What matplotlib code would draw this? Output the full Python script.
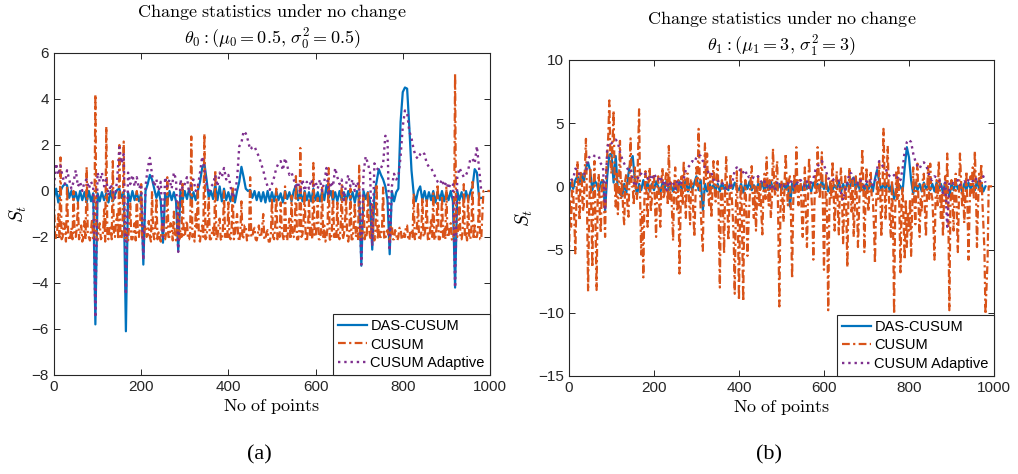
import matplotlib
matplotlib.use('Agg')
import matplotlib.pyplot as plt
import numpy as np

# sample steps along "No of points" for DAS-CUSUM, CUSUM, CUSUM Adaptive
steps = [5, 2.5, 5]

# (a) theta_0 panel
left_das = [
    -0.3, 0.1, -0.5, 0.0, 0.2, 0.3, 0.25, -0.3, 0.0, -0.4,
    -0.05, -0.45, 0.0, -0.4, -0.05, -0.5, 0.0, -0.45, -0.1, -5.8,
    -0.1, -0.45, -0.05, -0.4, -0.1, -0.5, 0.0, -0.45, -0.15, 0.05,
    0.1, -0.3, -0.05, -6.1, -0.05, -0.45, 0.0, -0.4, -0.05, -0.45,
    -0.1, -3.2, 0.0, 0.3, 0.7, 0.5, 0.1, -0.3, 0.0, -0.45,
    -2.25, -0.1, -0.45, 0.0, -0.4, -0.05, -0.45, -2.6, 0.0, -0.4,
    0.0, -0.35, 0.1, -0.45, -0.05, -0.4, 0.0, 0.4, 1.0, 1.2,
    0.5, -0.3, 0.0, -0.35, 0.3, -0.4, 0.2, -0.45, 0.1, -0.4,
    -0.05, -0.45, 0.0, -0.5, 0.0, 0.4, 1.05, 0.6, 0.1, 0.0,
    0.05, -0.3, 0.0, -0.4, -0.05, -0.45, -0.05, -0.5, 0.0, -0.45,
    -0.05, -0.45, 0.0, -0.4, -0.1, -0.5, 0.0, -0.35, -0.05, -0.45,
    0.0, 0.25, -0.4, -0.05, -0.45, 0.0, -0.4, -0.05, -0.45, 0.1,
    -0.4, -0.05, -0.45, 0.0, -0.4, 0.25, -0.3, 0.0, -0.45, -0.05,
    -0.45, 0.0, -0.4, -0.05, -0.45, 0.0, -0.4, -0.05, -0.5, 0.0,
    -0.4, -3.25, 0.0, -0.35, -0.05, -0.45, -2.55, -0.1, 0.4, 0.95,
    0.7, 0.5, 0.2, -0.4, -2.75, 0.0, -0.45, -0.05, 0.1, 3.0,
    4.3, 4.5, 4.45, 2.8, 0.9, -0.1, -0.45, 0.0, 0.2, -0.4,
    0.0, -0.45, -0.05, -0.4, 0.0, -0.5, -0.05, -0.4, 0.0, -0.45,
    -0.05, -0.4, 0.0, -0.45, -4.2, 0.0, -0.4, -0.05, -0.45, 0.0,
    -0.4, -0.05, 0.2, 0.95, 0.8, -0.3, -0.3,
]
left_cusum = [
    -0.3, -1.9, -2.1, -1.7, -1.0, -2.0, 1.46, -2.1, -2.0, -1.4, -1.5, -2.2, 0.25, -1.8, -2.15, -2.0, -1.6, -2.1, 0.0, -1.9,
    -2.0, -1.6, -0.5, -2.1, -1.9, -1.5, -2.2, -2.0, -1.3, -2.1, 1.05, -1.8, -2.0, -2.15, -1.7, -1.2, -2.1, -1.9, 4.2, -2.1,
    -2.15, -1.7, -1.4, -2.1, -2.0, -1.8, -0.8, -2.2, 2.8, -2.0, -2.1, -1.5, -1.6, -2.1, 1.3, -1.9, -2.0, -1.3, -1.0, -2.1,
    2.0, -2.0, -2.1, -1.6, 2.15, -2.1, -1.8, -2.0, -2.2, -1.4, -0.5, -2.1, -2.1, -1.8, -1.4, -2.15, 0.0, -1.9, -2.0, -1.5,
    0.3, -2.1, -2.15, -1.7, -1.5, -2.0, -1.9, -1.3, -2.0, -2.2, 0.0, -1.8, -2.1, -1.6, -0.3, -2.1, -1.8, -2.0, -2.2, -1.5,
    -1.2, -2.1, -2.1, -1.8, 0.6, -2.0, -2.0, -1.4, -1.6, -2.15, -0.9, -2.0, -2.15, -1.7, -0.5, -2.1, -1.7, -2.0, 0.4, -1.9,
    -2.0, -1.5, -1.3, -2.1, -2.1, -1.8, 2.37, -2.0, -1.9, -2.2, -1.0, -1.6, 0.2, -2.1, -2.2, -1.7, -1.5, -2.0, 2.49, -2.1,
    -2.0, -1.4, -0.3, -2.1, -2.1, -1.8, -1.6, -2.0, 0.9, -2.15, -2.0, -1.5, -1.2, -2.1, -2.15, -1.7, 0.0, -2.0, -1.8, -2.1,
    -0.5, -2.0, -2.1, -1.6, 0.2, -2.1, -1.9, -1.4, -1.0, -2.0, -2.2, -1.8, -0.45, -2.1, -2.0, -1.5, -1.5, -2.15, -2.1, -1.8,
    0.6, -2.0, -2.0, -1.7, -1.6, -2.1, -2.15, -1.9, -1.5, -2.0, -2.0, -1.6, -1.0, -2.1, -2.1, -1.8, -1.7, -2.2, -2.2, -1.9,
    -0.3, -2.0, -2.1, -1.5, 0.1, -2.1, -1.8, -2.0, -0.5, -1.7, -2.0, -2.15, 0.2, -1.9, -2.15, -1.6, -1.2, -2.1, -0.2, -2.0,
    -2.0, -1.6, 0.65, -2.1, -2.1, -1.8, 1.87, -2.0, -1.9, -1.4, 0.0, -2.15, -2.2, -1.7, -0.4, -2.0, -1.6, -2.1, 1.22, -1.9,
    -2.0, -1.5, -0.3, -2.1, -2.1, -1.8, 0.2, -2.0, -1.5, -2.2, -2.0, -1.6, 1.0, -2.1, -2.15, -1.7, 0.0, -2.0, -1.8, -2.1,
    -0.5, -2.0, -2.1, -1.6, 0.3, -2.1, -1.9, -1.4, -0.3, -2.0, -2.2, -1.8, 0.1, -2.1, -2.1, -1.5, -0.5, -2.0, -1.6, -2.15,
    1.1, -2.0, -2.1, -1.7, -0.2, -2.1, -1.8, -2.0, 0.0, -1.6, -2.0, -2.15, -0.5, -1.9, -2.15, -1.6, 0.3, -2.1, -1.5, -2.0,
    -2.0, -1.6, 0.15, -2.1, -2.1, -1.8, -1.7, -2.0, -2.2, -1.5, -1.5, -2.1, -2.1, -1.7, -1.9, -2.15, -2.0, -1.6, -1.6, -2.1,
    -2.1, -1.8, -2.0, -1.5, -1.5, -2.1, -2.15, -1.7, -1.8, -2.0, -0.1, -2.1, -2.0, -1.6, -0.5, -2.15, -2.1, -1.8, -0.3, -2.0,
    -1.9, -1.5, -0.4, -2.1, -2.2, -1.7, -1.2, -2.0, -0.1, -2.15, -2.0, -1.6, 0.3, -2.1, -2.1, -1.8, -0.2, -2.0, -1.6, -2.1,
    0.2, -2.0, -2.0, -1.6, -1.4, -2.1, -2.15, -1.8, 5.1, -2.0, -2.0, -1.5, -0.5, -2.1, -2.1, -1.7, 0.3, -2.0, -1.8, -2.15,
    -0.2, -2.0, -2.1, -1.6, 0.4, -2.1, -1.5, -2.0, -2.0, -1.7, 0.0, -2.1, -2.1, -1.0, 0.0, 0.0, 0.0, 0.0, 0.0, 0.0,
    0.0,
]
left_adaptive = [
    0.2, 1.2, 0.7, 1.1, 0.6, 0.3, 0.9, 0.5, 0.1, 0.4,
    0.9, 0.2, 0.4, 0.0, 0.4, 0.5, 0.1, 0.4, 0.2, -5.5,
    0.8, 0.4, 0.8, 0.2, 0.5, -0.2, 0.3, 0.0, -0.3, 0.5,
    1.9, 1.2, 1.6, -4.5, 0.8, 0.3, 0.7, 0.2, 0.6, 0.1,
    0.3, -3.0, 0.2, 1.0, 1.44, 0.7, 0.2, 0.5, 0.0, 0.4,
    -2.0, 0.6, 0.2, 0.5, 0.1, 0.8, 0.5, -2.65, 0.5, 0.1,
    0.3, 0.6, -0.1, 0.3, 0.5, 0.0, 0.2, 0.8, 1.5, 1.0,
    0.3, -0.1, 0.2, 0.3, 0.7, 0.2, 0.8, 0.6, 1.0, 0.5,
    0.7, 0.2, -0.3, -0.1, 0.5, 1.94, 2.1, 2.6, 2.5, 2.2,
    1.8, 1.9, 1.94, 1.7, 1.5, 1.2, 0.9, 0.5, 0.2, 0.05,
    0.3, 0.6, 1.0, 1.2, 1.3, 0.9, 1.43, 1.1, 0.7, 0.8,
    0.5, 0.1, 0.4, -0.1, 0.5, 0.0, 0.4, 0.1, 0.5, 0.2,
    0.4, 0.1, 0.5, 0.0, 0.4, 1.0, -0.2, 0.4, 0.2, 1.0,
    0.6, 0.3, 0.5, -0.4, 0.3, 0.7, 0.2, 0.5, 0.0, 0.4,
    0.2, -3.2, 0.8, 1.5, 1.2, 0.8, -2.4, 1.2, 1.0, 0.9,
    1.0, 1.2, 2.4, 2.3, -2.6, 0.2, 0.75, 0.5, 0.6, 1.5,
    2.8, 3.5, 3.4, 2.6, 2.3, 1.8, 1.5, 1.4, 1.6, 1.7,
    1.6, 1.2, 1.05, 1.0, 0.8, 0.6, 0.4, 0.3, 0.5, 0.2,
    0.4, 0.1, 0.35, 0.3, -4.2, 0.6, 1.0, 0.8, 0.6, 0.7,
    0.9, 1.4, 1.4, 1.2, 1.95, 1.0, 0.0,
]

# (b) theta_1 panel
right_das = [
    -0.5, 0.3, -0.2, 0.5, 0.8, 0.3, 1.0, 0.4, 1.5, 1.9,
    1.2, -0.3, 0.5, 0.2, -0.4, 0.3, 0.5, -1.9, 0.8, 2.5,
    2.6, 0.3, 2.4, -0.3, -0.6, -0.8, 0.2, -0.5, 1.0, 2.0,
    2.4, 0.5, -0.7, 0.2, -0.3, 0.5, -0.2, 0.3, -0.4, 0.2,
    -0.3, 0.4, 0.0, -0.5, 0.3, -0.2, 0.5, -0.3, 0.1, -0.4,
    0.2, -0.3, 0.4, -0.2, 0.0, 0.5, -0.4, 0.2, -0.3, 0.3,
    0.8, -0.3, 0.5, -1.9, 0.2, -0.4, 0.3, -0.2, 0.1, -0.3,
    0.2, -0.4, 0.3, -0.2, 0.0, -0.3, 0.4, -0.2, 0.3, -0.1,
    -0.3, 0.2, -0.5, 0.3, -0.2, 0.4, -0.3, 0.1, -0.4, 0.2,
    -0.2, 0.3, -0.4, 0.2, -0.3, 0.4, -0.2, 0.1, -0.3, 0.2,
    -0.3, 0.2, -0.2, 0.3, -1.6, 0.2, -0.4, 0.3, -0.2, 0.1,
    -0.3, 0.4, -0.2, 0.2, -0.4, 0.3, -0.1, 0.2, -0.3, 0.5,
    -0.2, 0.3, -0.4, 0.2, -0.3, 0.1, -0.2, 0.4, -0.5, 0.2,
    -0.3, 0.3, -0.2, 0.5, 0.7, -0.2, 0.3, -0.4, 0.2, -0.3,
    0.2, -0.2, 0.3, -0.4, 0.6, 1.3, 0.4, -0.3, 0.2, -0.2,
    0.3, -0.4, 0.2, -1.0, -0.3, 0.2, 0.0, -0.4, 1.5, 3.1,
    2.3, 0.5, -0.6, 0.3, -0.3, 0.2, -0.4, 0.3, -0.2, 0.1,
    -0.3, 0.2, -0.4, 0.3, -0.2, 0.2, -0.5, 0.3, -0.2, -0.8,
    0.2, -0.3, 0.3, -0.2, 0.1, -0.4, 0.2, -0.3, 0.3, -0.2,
    0.2, -0.3, 0.4, -0.2, 0.3, -0.4, 0.0,
]
right_cusum = [
    -5.7, -1.0, -3.2, 0.5, -0.5, -2.5, -5.3, -1.0, 2.0, -0.5, -2.7, 1.2, 0.8, -2.0, -1.5, 1.5, 3.76, -1.5, -8.3, -2.0,
    1.5, -1.5, -6.4, -0.5, 2.0, -3.0, -8.2, -1.0, 1.0, -2.0, -3.7, 0.5, 0.5, -1.5, -4.0, 1.0, 2.5, 4.0, 6.8, 2.0,
    1.0, 3.5, 6.0, 0.5, -1.6, 1.0, -2.2, 0.0, 3.6, -1.0, 0.5, -2.0, -3.0, 0.5, 1.0, -1.5, -2.4, 1.0, 3.8, 0.0,
    0.0, -1.5, 1.5, -0.5, -1.0, 2.5, 6.1, -1.0, -5.4, -2.0, -7.2, -1.0, 1.2, -0.5, -3.2, 0.5, 1.5, -2.0, -1.0, 0.5,
    1.0, -1.5, -4.0, 0.0, 0.8, -1.5, -3.2, 0.5, 1.5, -1.0, -0.5, 0.8, 1.2, -1.5, 3.2, -1.0, 0.3, -2.0, -4.3, 0.0,
    1.5, -1.0, -2.0, 0.5, -6.9, -2.0, 0.8, -1.5, 2.0, 0.0, -2.5, 1.0, 1.0, -1.0, -3.0, 0.5, 0.5, -2.0, -4.0, -1.0,
    1.5, 0.0, 4.55, 1.0, -2.0, -3.5, -5.1, 0.5, 3.4, 0.5, 2.6, -0.5, -1.5, 1.0, -2.5, -0.5, 2.0, 0.0, -1.2, 1.0,
    2.0, -2.5, -8.0, -1.0, 0.5, -2.0, -5.3, 0.0, 2.4, -1.0, -4.3, -1.5, 1.0, -0.5, -2.0, -4.0, -8.5, -2.0, 1.2, -3.0,
    -9.0, -2.0, 1.5, -4.0, -9.1, -1.5, 0.5, -2.0, -5.5, -3.0, -1.0, 0.5, 1.6, -1.0, -2.5, 0.0, -3.5, -1.0, 0.8, -1.5,
    0.2, -2.0, -3.8, -0.5, 1.0, -1.0, 2.3, 0.0, -1.5, 0.5, -2.5, -1.0, 3.0, 0.5, -0.8, 1.0, 2.0, -3.0, -9.5, -2.0,
    0.5, -1.0, -2.8, 0.5, 2.6, 0.0, -1.5, 0.5, 0.8, -2.5, -7.3, -1.5, 1.0, -0.5, 3.1, 0.0, -1.5, 0.5, 0.5, -2.0,
    -4.0, -1.0, 1.5, -2.0, -4.8, -1.0, 2.3, 0.0, -0.5, -2.0, -5.8, -1.5, 1.0, -0.5, 3.1, 1.0, -1.0, 0.5, 2.7, -1.5,
    -6.6, -2.0, 1.0, -3.0, -9.8, -2.0, 0.5, -1.0, 2.0, 0.0, -3.5, -1.0, 1.2, -1.5, -3.8, 0.0, 1.5, -1.0, -4.5, -1.5,
    0.8, -2.0, -6.4, -1.0, 1.5, -0.5, -2.0, 0.5, -4.0, -1.5, 0.8, -1.0, -4.8, -2.0, 1.0, -0.5, 3.0, 0.5, -5.2, -1.5,
    1.5, -1.0, -2.0, 0.5, 1.2, -1.0, -1.0, -3.0, -6.1, -1.5, 0.5, -1.0, 2.0, -0.5, -4.0, -1.0, 4.55, 1.0, -2.7, 0.5,
    3.2, -0.5, -2.7, -4.0, 0.5, -3.0, -10.1, -2.0, 1.2, -1.0, 1.5, -2.0, -6.8, -1.5, 0.0, -3.0, -5.8, -1.0, -4.8, -2.0,
    -3.5, -1.0, -5.5, -2.0, 1.5, -1.0, -3.0, 0.5, 1.8, -1.5, -4.0, -1.0, -2.0, 0.5, 1.0, -2.0, -4.0, -0.5, 1.6, -1.0,
    1.8, -0.5, -1.0, -3.0, -5.8, -1.0, 0.5, -1.5, 2.0, 0.0, -2.5, -0.5, -4.0, -1.0, 0.8, -1.5, 2.6, -2.0, -9.8, -1.5,
    0.5, -1.0, -3.5, 0.0, 1.0, -2.0, -5.2, -1.0, 2.6, 0.5, -1.5, 0.0, -2.9, -1.0, 1.2, -1.5, -5.8, -2.0, 0.8, -0.5,
    1.5, -1.0, 2.8, 0.0, -4.8, -1.5, 1.0, -0.5, 1.8, -1.0, -3.0, -5.0, -10.1, -8.0, -5.8, 0.0, 0.0, 0.0, 0.0, 0.0,
    0.0,
]
right_adaptive = [
    0.0, 0.5, 0.6, 1.4, 1.3, 0.9, 1.0, 1.0, 1.0, 2.2,
    2.4, 2.5, 2.4, 2.4, 2.4, 1.8, 1.6, -1.9, 3.1, 3.5,
    3.4, 3.6, 3.7, 3.5, 2.7, 2.2, 1.8, 1.5, 1.3, 1.4,
    0.6, 0.0, 0.3, 1.0, 1.0, 0.8, 1.0, 0.6, 0.9, 0.5,
    1.0, 0.7, 0.5, 0.8, 0.2, 0.5, -0.3, 0.4, 0.1, 0.3,
    -0.2, 0.5, 0.0, 0.3, 0.6, 1.3, 1.5, 1.7, 2.0, 1.9,
    2.3, 2.5, 2.4, 2.0, 1.5, 1.3, 1.0, 1.1, 0.5, 0.6,
    0.4, 0.5, 0.3, 0.0, -0.2, 0.1, -0.2, 0.4, 1.3, 1.5,
    1.2, 1.4, 1.1, 1.3, 0.7, 0.8, 0.6, 0.7, 0.6, 0.8,
    0.5, 0.2, 0.4, 0.0, 0.2, -0.3, 0.1, -0.2, 0.3, 0.0,
    0.1, -0.1, 0.3, 0.2, 0.5, 0.3, 0.0, 0.4, 0.2, 0.5,
    0.3, 0.0, 0.4, -0.1, 0.3, 0.6, 1.3, 1.6, 1.8, 2.0,
    1.7, 1.2, 0.6, 0.7, 0.5, 0.6, 0.6, 0.4, -0.5, -1.1,
    -0.3, 0.3, 1.1, 1.0, 0.5, 0.4, 0.2, 0.5, 0.3, 0.0,
    0.4, 0.2, 0.5, 0.1, 0.3, 1.4, 2.0, 1.8, 1.5, 1.4,
    1.0, 0.8, 0.7, 0.9, 0.6, 0.8, 0.5, 1.4, 2.8, 3.5,
    3.7, 3.5, 2.6, 2.0, 1.6, 1.4, 1.8, 1.9, 1.7, 1.2,
    0.6, 0.5, 0.8, 0.7, 0.6, 0.2, -0.6, 0.3, -3.2, 0.3,
    0.4, 0.2, 0.3, 0.5, 0.1, 0.3, 0.4, 0.2, 0.5, 0.6,
    0.4, 0.7, 0.5, 0.3, 0.6, 0.8, 0.3,
]

series_names = ['DAS-CUSUM', 'CUSUM', 'CUSUM Adaptive']
colors = ['#0072BD', '#D95319', '#7E2F8E']
styles = ['-', (0, (3.5, 1.5, 1, 1.5)), ':']
widths = [1.6, 1.6, 1.7]

titles = [
    r'$\mathrm{Change\ statistics\ under\ no\ change}$' + '\n'
    + r'$\theta_0:(\mu_0=0.5,\,\sigma_0^2=0.5)$',
    r'$\mathrm{Change\ statistics\ under\ no\ change}$' + '\n'
    + r'$\theta_1:(\mu_1=3,\,\sigma_1^2=3)$',
]
panels = [
    [left_das, left_cusum, left_adaptive],
    [right_das, right_cusum, right_adaptive],
]
ylims = [(-8, 6), (-15, 10)]
yticks = [np.arange(-8, 7, 2), np.arange(-15, 11, 5)]
sublabels = ['(a)', '(b)']

plt.rcParams['font.family'] = ['Liberation Sans', 'DejaVu Sans']
plt.rcParams['mathtext.fontset'] = 'cm'

fig = plt.figure(figsize=(10.18, 4.74), dpi=100)
axes = [
    fig.add_axes([0.0530, 0.2089, 0.4283, 0.6793]),
    fig.add_axes([0.5589, 0.2068, 0.4175, 0.6667]),
]

axis_col = '#262626'
for k, ax in enumerate(axes):
    for vals, name, c, ls, lw, st in zip(panels[k], series_names, colors, styles, widths, steps):
        xs = np.arange(len(vals)) * st
        ax.plot(xs, vals, color=c, linestyle=ls, linewidth=lw, label=name)

    ax.set_xlim(0, 1000)
    ax.set_ylim(*ylims[k])
    ax.set_xticks(np.arange(0, 1001, 200))
    ax.set_yticks(yticks[k])
    ax.tick_params(direction='in', top=True, right=True, length=4, width=0.7,
                   color=axis_col, labelcolor=axis_col, labelsize=11)
    for sp in ax.spines.values():
        sp.set_color(axis_col)
        sp.set_linewidth(0.8)

    ax.set_title(titles[k], fontsize=13, linespacing=1.3, pad=6)
    ax.set_xlabel(r'$\mathrm{No\ of\ points}$', fontsize=13, labelpad=2)
    ax.set_ylabel(r'$S_t$', fontsize=14, labelpad=2)

    leg = ax.legend(loc='lower right', fontsize=10.5, fancybox=False,
                    edgecolor=axis_col, framealpha=1, borderaxespad=0,
                    handlelength=2.0, handletextpad=0.25, labelspacing=0.3,
                    borderpad=0.35)
    leg.get_frame().set_linewidth(0.8)

    x_mid = ax.get_position().x0 + ax.get_position().width / 2
    fig.text(x_mid - 0.012, 0.04, sublabels[k], ha='center', va='center',
             fontsize=16, family='Liberation Serif')

plt.savefig('out.png', dpi=100)
